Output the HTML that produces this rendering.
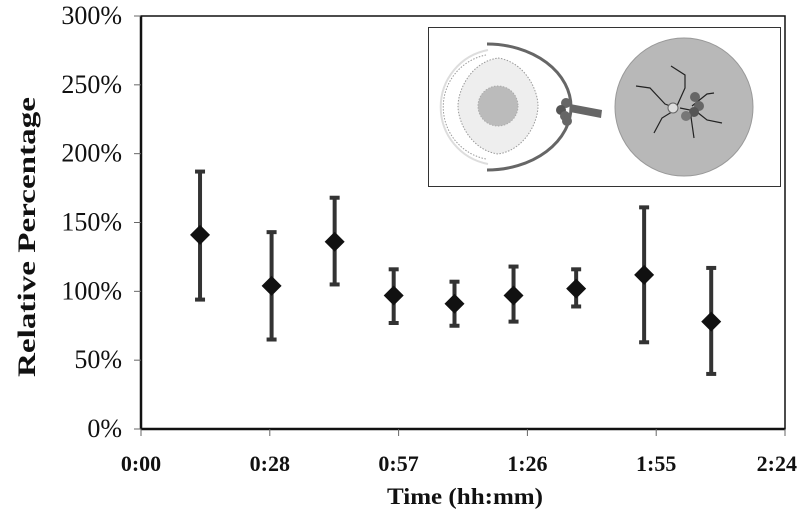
<!DOCTYPE html>
<html><head><meta charset="utf-8"><style>
html,body{margin:0;padding:0;background:#fff;}
svg{display:block;font-family:"Liberation Serif",serif;}
</style></head><body>
<svg id="chart" width="800" height="515" viewBox="0 0 800 515">
<rect x="141" y="16" width="644" height="413" fill="#fff" stroke="#111" stroke-width="1.5"/>
<g id="axes"></g>
<g id="inset">
<rect x="428.5" y="27.5" width="352" height="159" fill="#fff" stroke="#333" stroke-width="1"/>
<path d="M488,50 A58,58 0 0 0 488,164" fill="none" stroke="#ddd" stroke-width="2"/>
<path d="M486,55 A53,53 0 0 0 486,159" fill="none" stroke="#999" stroke-width="1" stroke-dasharray="1.5,1.5"/>
<path d="M498,58 C525,62 538,90 538,106 C538,122 525,150 498,154 C471,150 458,122 458,106 C458,90 471,62 498,58 Z" fill="#eee" stroke="#999" stroke-dasharray="1.5,1.5" stroke-width="1"/>
<circle cx="498" cy="106" r="20" fill="#bbb" stroke="#aaa" stroke-dasharray="1.5,1.5"/>
<path d="M487,44 A84,63 0 0 1 487,170" fill="none" stroke="#666" stroke-width="3"/>
<path d="M570,104 L602,110 L601,118 L570,112 Z" fill="#666"/>
<circle cx="566" cy="103" r="5" fill="#666"/><circle cx="561" cy="110" r="5" fill="#555"/>
<circle cx="565" cy="116" r="5" fill="#666"/><circle cx="567" cy="121" r="5" fill="#666"/>
<circle cx="684" cy="107" r="69" fill="#b8b8b8" stroke="#999"/>
<g fill="none" stroke="#222" stroke-width="1.2">
<path d="M673,107 L665,104 L650,88 L636,86"/><path d="M676,108 L685,88 L685,75 L671,66"/>
<path d="M680,108 L690,110 L694,138"/><path d="M675,110 L662,118 L654,133"/>
<path d="M692,106 L707,94 L714,93"/><path d="M697,112 L707,120 L722,123"/>
</g>
<circle cx="673" cy="108" r="5" fill="#ddd" stroke="#666"/>
<circle cx="695" cy="97" r="5" fill="#666"/><circle cx="699" cy="106" r="5" fill="#666"/>
<circle cx="694" cy="112" r="5" fill="#555"/><circle cx="686" cy="116" r="5" fill="#777"/>
</g>
<g id="marks"></g>
<text x="35" y="237" transform="rotate(-90 35 237)" text-anchor="middle" font-size="25" font-weight="bold" textLength="280" lengthAdjust="spacingAndGlyphs" fill="#111">Relative Percentage</text>
<text x="465" y="504" text-anchor="middle" font-size="23" font-weight="bold" textLength="156" lengthAdjust="spacingAndGlyphs" fill="#111">Time (hh:mm)</text>
</svg>
<script>
const xTickLabels = ["0:00","0:28","0:57","1:26","1:55","2:24"];
const xTickValues = [0, 28.8, 57.6, 86.4, 115.2, 144];
const yTickValues = [0, 50, 100, 150, 200, 250, 300];
const times = [13.2, 29.2, 43.3, 56.5, 70.1, 83.3, 97.3, 112.5, 127.5];
const means = [141, 104, 136, 97, 91, 97, 102, 112, 78];
const upper = [187, 143, 168, 116, 107, 118, 116, 161, 117];
const lower = [94, 65, 105, 77, 75, 78, 89, 63, 40];

const NS = "http://www.w3.org/2000/svg";
const X0 = 141, X1 = 785, Y0 = 429, Y1 = 16;
const xS = v => X0 + (v / 144) * (X1 - X0);
const yS = v => Y0 - (v / 300) * (Y0 - Y1);
function mk(tag, attrs, parent) {
  const e = document.createElementNS(NS, tag);
  for (const k in attrs) e.setAttribute(k, attrs[k]);
  parent.appendChild(e);
  return e;
}
const axes = document.getElementById("axes");
const marks = document.getElementById("marks");
const la = mk("line", {x1: X0, y1: Y1, x2: X0, y2: Y0, stroke: "#111", "stroke-width": 2.5}, axes);


const ba = mk("line", {x1: X0, y1: Y0, x2: X1, y2: Y0, stroke: "#111", "stroke-width": 2.5}, axes);


yTickValues.forEach(v => {
  const y = yS(v);
  const t = mk("line", {x1: X0 - 7, y1: y, x2: X0, y2: y, stroke: "#666", "stroke-width": 1}, axes);
  
  
  const l = mk("text", {x: 122, y: y + 8, "text-anchor": "end", "font-size": 26, fill: "#111"}, axes);
  l.textContent = v + "%";
  
  
});
xTickValues.forEach((v, i) => {
  const x = xS(v);
  const t = mk("line", {x1: x, y1: Y0, x2: x, y2: Y0 + 7, stroke: "#666", "stroke-width": 1}, axes);
  
  
  const last = i === xTickValues.length - 1;
  const l = mk("text", {x: last ? 797 : x, y: 471, "text-anchor": last ? "end" : "middle", "font-size": 22, "font-weight": "bold", fill: "#111"}, axes);
  l.textContent = xTickLabels[i];
  
  
});
times.forEach((t, i) => {
  const x = xS(t);
  const g = mk("g", {}, marks);
  
  
  mk("line", {x1: x, y1: yS(upper[i]), x2: x, y2: yS(lower[i]), stroke: "#333", "stroke-width": 4}, g);
  mk("line", {x1: x - 5, y1: yS(upper[i]), x2: x + 5, y2: yS(upper[i]), stroke: "#333", "stroke-width": 4}, g);
  mk("line", {x1: x - 5, y1: yS(lower[i]), x2: x + 5, y2: yS(lower[i]), stroke: "#333", "stroke-width": 4}, g);
  const y = yS(means[i]);
  mk("polygon", {points: `${x},${y-10} ${x+10},${y} ${x},${y+10} ${x-10},${y}`, fill: "#111"}, g);
});
</script>
</body></html>
